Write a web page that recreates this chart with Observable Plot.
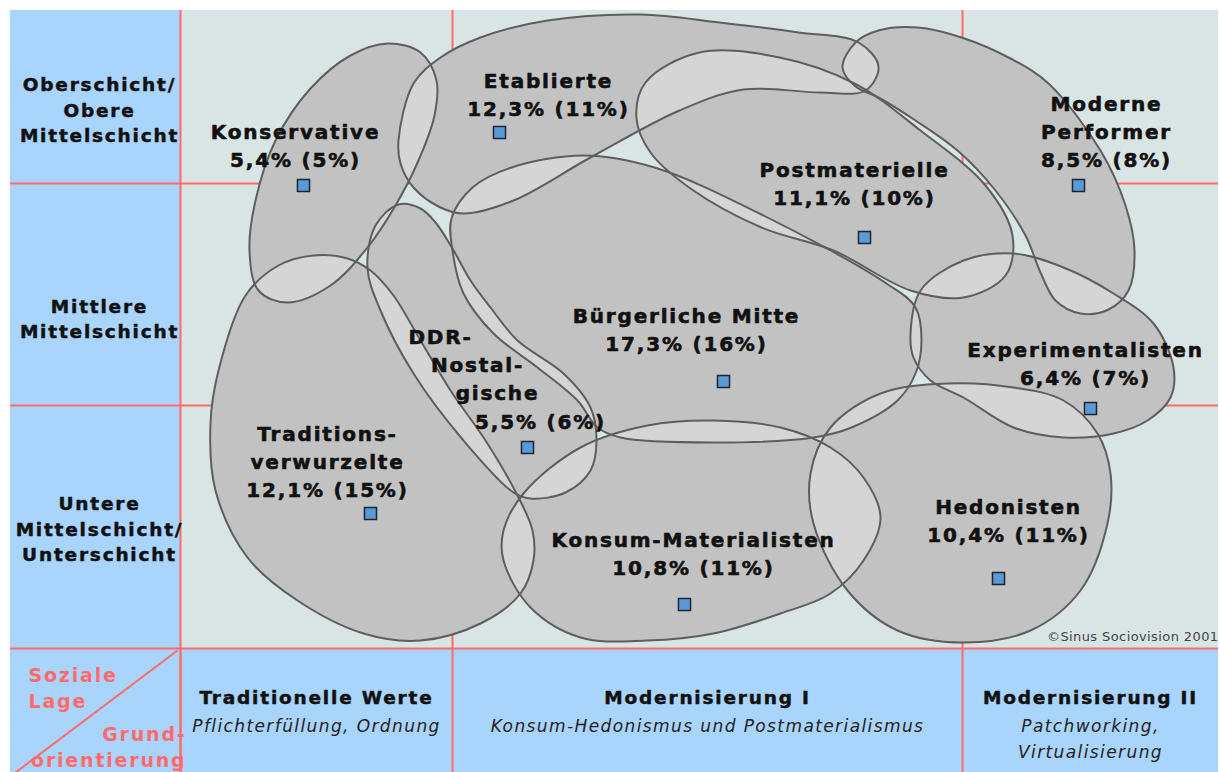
<!DOCTYPE html>
<html><head><meta charset="utf-8">
<script src="https://cdn.jsdelivr.net/npm/d3@7"></script>
<script src="https://cdn.jsdelivr.net/npm/@observablehq/plot@0.6"></script>
<style>
body{margin:0;background:#fff;}
svg path{fill-rule:evenodd;}
svg text{letter-spacing:1.8px;}
svg g[aria-description="copyright"] text{letter-spacing:0.4px;}
svg g[aria-description="subtitle"] text{letter-spacing:1.4px;}
</style></head><body><div id="chart"></div>
<script>
const W = 1220, H = 772;
// grid edges (data space)
const colEdges = [10, 180, 452, 962, 1218];
const rowEdges = [10, 183, 405, 648, 772];

// milieus
const milieus = ["Konservative","Etablierte","Postmaterielle","Moderne Performer","Bürgerliche Mitte","DDR-Nostalgische","Traditionsverwurzelte","Konsum-Materialisten","Experimentalisten","Hedonisten"];
const labelNames = ["Konservative","Etablierte","Postmaterielle","Moderne\nPerformer","Bürgerliche Mitte",null,"Traditions-\nverwurzelte","Konsum-Materialisten","Experimentalisten","Hedonisten"];
const share2001 = [5.4, 12.3, 11.1, 8.5, 17.3, 5.5, 12.1, 10.8, 6.4, 10.4];
const share2000 = [5, 11, 10, 8, 16, 6, 15, 11, 7, 11];
const labelX = [295, 548, 854, 1106, 686, null, 327, 693, 1085, 1008];
const labelY = [144, 93, 182, 130, 328, null, 460, 552, 362, 519];
const markerX = [303, 499, 864, 1078, 723, 527, 370, 684, 1090, 998];
const markerY = [185, 132, 237, 185, 381, 447, 513, 604, 408, 578];
const ddrLines = ["DDR-", "Nostal-", "gische"];
const ddrLineX = [440, 477, 497, 540];
const ddrLineY = [337, 365, 393, 422];

// outlines (control points)
const konservative = [[387,43],[420,52],[436,80],[434,115],[418,160],[395,205],[367,247],[330,285],[287,302],[258,290],[249,250],[255,200],[275,140],[310,88],[350,55]];
const etablierte = [[398,140],[413,83],[440,57],[480,37],[547,20],[640,14],[719,22],[798,32],[858,42],[878,66],[865,90],[820,92],[743,89],[679,110],[590,157],[513,200],[463,213],[440,207],[413,187],[400,163]];
const postmaterielle = [[636,118],[645,82],[699,52],[779,57],[854,83],[920,130],[985,185],[1012,235],[1005,275],[963,297],[910,290],[833,250],[761,227],[690,188],[650,152]];
const moderne = [[842,67],[855,42],[878,30],[917,27],[961,37],[1010,58],[1048,83],[1100,150],[1125,205],[1134,250],[1128,290],[1108,309],[1080,313],[1055,300],[1040,272],[1025,235],[995,190],[957,150],[915,120],[878,97],[855,86]];
const buergerliche = [[451,218],[472,187],[511,167],[583,155],[654,167],[761,214],[886,283],[915,307],[921,340],[915,373],[897,400],[851,427],[813,437],[713,442],[620,437],[597,427],[577,400],[537,367],[493,333],[463,293],[452,250]];
const ddr = [[398,204],[420,208],[435,222],[452,248],[470,280],[490,307],[517,340],[563,373],[590,407],[596,440],[590,470],[565,492],[530,498],[513,492],[463,440],[413,373],[380,310],[367,268],[375,225]];
const tradition = [[313,255],[347,258],[370,270],[393,295],[420,340],[450,390],[485,440],[517,495],[532,530],[533,560],[520,593],[480,623],[420,640],[363,633],[297,600],[247,557],[215,490],[210,423],[218,370],[245,295],[278,265]];
const konsum = [[523,493],[580,447],[647,425],[713,420],[780,427],[830,447],[863,477],[880,517],[863,560],[830,593],[780,613],[713,633],[647,640],[580,637],[530,607],[503,560],[503,530]];
const experimental = [[910,333],[920,290],[963,260],[1013,253],[1063,267],[1113,293],[1153,323],[1173,367],[1170,397],[1147,420],[1113,433],[1063,437],[1013,427],[963,397],[930,380],[913,357]];
const hedonisten = [[947,383],[1013,387],[1063,400],[1097,433],[1110,473],[1107,523],[1080,590],[1030,630],[963,642],[897,630],[847,590],[813,523],[810,473],[830,427],[880,393]];
const outlines = [konservative, etablierte, postmaterielle, moderne, buergerliche, ddr, tradition, konsum, experimental, hedonisten];

// axis texts
const rowLabels = ["Oberschicht/\nObere\nMittelschicht", "Mittlere\nMittelschicht", "Untere\nMittelschicht/\nUnterschicht"];
const rowLabelY = [108, 317, 527];
const colTitles = ["Traditionelle Werte", "Modernisierung I", "Modernisierung II"];
const colSubtitles = [["Pflichterfüllung, Ordnung"], ["Konsum-Hedonismus und Postmaterialismus"], ["Patchworking,", "Virtualisierung"]];
const cornerTop = "Soziale\nLage";
const cornerBottom = "Grund-\norientierung";
const copyright = "©Sinus Sociovision 2001";

const fmt = v => String(v).replace(".", ",") + "%";
const shareText = i => `${fmt(share2001[i])} (${fmt(share2000[i])})`;

const outlineRows = outlines.flatMap((pts, k) => pts.map(([x, y]) => ({name: milieus[k], x, y})));
const evenRows = outlines.flatMap(pts => [...pts.map(([x, y]) => ({x, y})), {x: NaN, y: NaN}]);
const markerRows = milieus.map((m, i) => ({m, x: markerX[i], y: markerY[i]}));
const labelRows = milieus.map((m, i) => ({text: labelNames[i] + "\n" + shareText(i), x: labelX[i], y: labelY[i]})).filter((d, i) => labelNames[i] !== null);
const ddrIdx = milieus.indexOf("DDR-Nostalgische");
const ddrRows = [...ddrLines, shareText(ddrIdx)].map((t, i) => ({text: t, x: ddrLineX[i], y: ddrLineY[i]}));
const colMid = colTitles.map((t, i) => (colEdges[i + 1] + colEdges[i + 2]) / 2);
const subRows = colSubtitles.flatMap((lines, i) => lines.map((t, j) => ({text: t, x: colMid[i], line: j})));

const blue = "#a9d4fb", light = "#d9e4e4", red = "#ff6b6b";
const font = "DejaVu Sans";
const subtitleBase = rowEdges[3] + 78, subtitleStep = 26, titleY = rowEdges[3] + 50;
const ink = "#111";

const plot = Plot.plot({
  width: W, height: H, margin: 0,
  x: {domain: [0, W], range: [0, W], axis: null},
  y: {domain: [0, H], range: [0, H], axis: null},
  style: {background: "none", fontFamily: font},
  marks: [
    Plot.rect([0], {x1: colEdges[1], x2: colEdges[4], y1: rowEdges[0], y2: rowEdges[3], fill: light}),
    Plot.rect([0], {x1: colEdges[0], x2: colEdges[1], y1: rowEdges[0], y2: rowEdges[3], fill: blue}),
    Plot.rect([0], {x1: colEdges[0], x2: colEdges[4], y1: rowEdges[3], y2: rowEdges[4], fill: blue}),
    Plot.ruleX(colEdges.slice(1, 4), {y1: rowEdges[0], y2: rowEdges[4], stroke: red, strokeWidth: 2}),
    Plot.ruleY(rowEdges.slice(1, 4), {x1: colEdges[0], x2: colEdges[4], stroke: red, strokeWidth: 2}),
    Plot.link([0], {x1: colEdges[1] - 3, y1: rowEdges[3] + 2, x2: colEdges[0] + 5, y2: rowEdges[4], stroke: red, strokeWidth: 2}),
    // shapes
    Plot.line(outlineRows, {x: "x", y: "y", z: "name", curve: "catmull-rom-closed", fill: "#d5d5d5", stroke: "none"}),
    Plot.line(evenRows, {x: "x", y: "y", curve: "catmull-rom-closed", fill: "#c2c2c2", stroke: "none"}),
    Plot.line(outlineRows, {x: "x", y: "y", z: "name", curve: "catmull-rom-closed", fill: "none", stroke: "#5e5e5e", strokeWidth: 2}),
    Plot.dot(markerRows, {x: "x", y: "y", symbol: "square", r: 6.8, fill: "#5b9ad8", stroke: "#1d2630", strokeWidth: 1.5}),
    Plot.text(labelRows, {x: "x", y: "y", text: "text", fontSize: 20, fontWeight: "bold", lineHeight: 1.4, fill: ink, stroke: ink, strokeWidth: 0.6, lineAnchor: "middle"}),
    Plot.text(ddrRows, {x: "x", y: "y", text: "text", fontSize: 20, fontWeight: "bold", fill: ink, stroke: ink, strokeWidth: 0.6}),
    Plot.text([copyright], {x: colEdges[4], y: rowEdges[3] - 12, text: d => d, textAnchor: "end", fontSize: 13, fill: "#444", ariaDescription: "copyright"}),
    // row labels
    Plot.text(rowLabels, {x: (colEdges[0] + colEdges[1]) / 2 + 4, y: (d, i) => rowLabelY[i], text: d => d, fontSize: 18.5, fontWeight: "bold", lineHeight: 1.36, fill: ink, stroke: ink, strokeWidth: 0.5}),
    // column titles
    Plot.text(colTitles, {x: (d, i) => colMid[i], y: titleY, text: d => d, fontSize: 18.5, fontWeight: "bold", fill: ink, stroke: ink, strokeWidth: 0.5}),
    Plot.text(subRows, {x: "x", y: d => subtitleBase + d.line * subtitleStep, text: "text", fontSize: 17, fontStyle: "italic", fill: "#222", ariaDescription: "subtitle"}),
    // corner
    Plot.text([cornerTop], {x: colEdges[0] + 18, y: rowEdges[3] + 38, text: d => d, textAnchor: "start", fontSize: 19, fontWeight: "bold", lineHeight: 1.37, fill: red}),
    Plot.text([cornerBottom], {x: colEdges[1] + 6, y: rowEdges[3] + 97, text: d => d, textAnchor: "end", fontSize: 19, fontWeight: "bold", lineHeight: 1.37, fill: red}),
    Plot.ruleX([colEdges[1]], {y1: rowEdges[3], y2: rowEdges[4], stroke: red, strokeWidth: 2})
  ]
});
document.getElementById("chart").append(plot);
</script></body></html>
